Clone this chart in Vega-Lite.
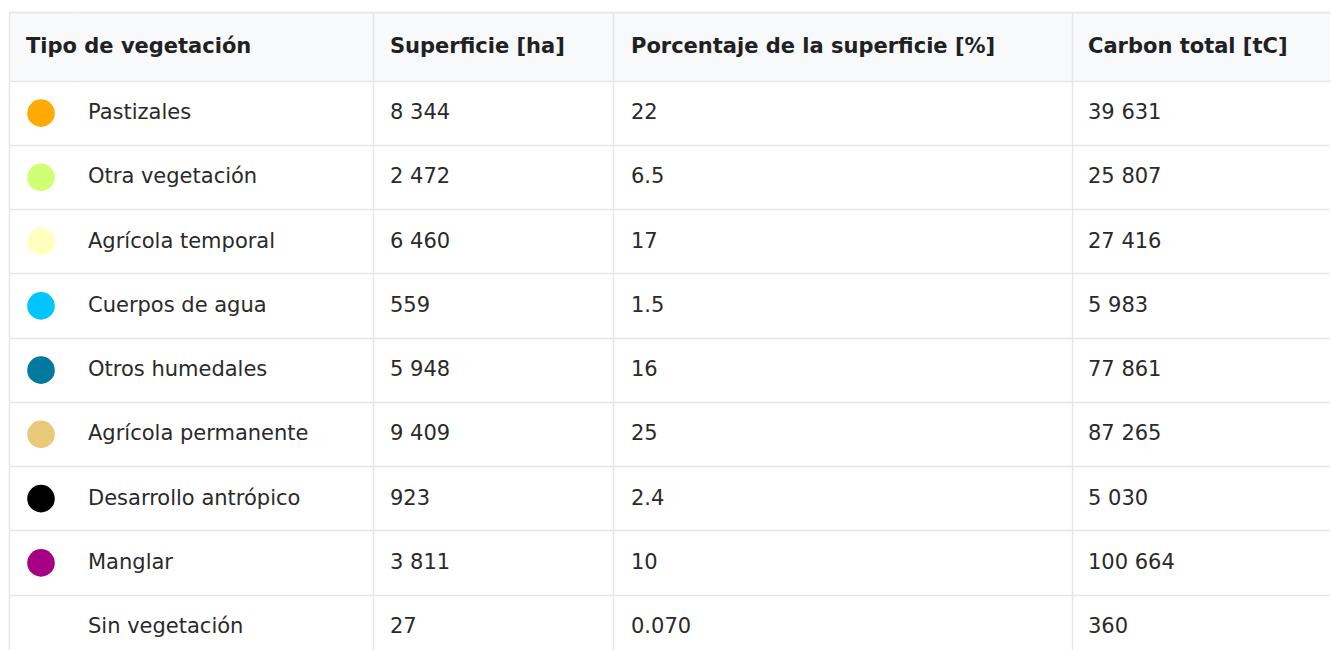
{
  "$schema": "https://vega.github.io/schema/vega-lite/v6.json",
  "padding": {"left": 9, "top": 12, "right": 0, "bottom": 0},
  "bounds": "flush",
  "columns": 5,
  "spacing": 0,
  "resolve": {"scale": {"x": "independent", "y": "independent", "color": "independent"}},
  "config": {
    "locale": {"number": {"decimal": ".", "thousands": " ", "grouping": [3], "currency": ["", ""]}},
    "view": {"stroke": null},
    "concat": {"spacing": 0},
    "axis": {"gridColor": "#e6e6e6", "domainColor": "#e6e6e6", "gridWidth": 1.5, "domainWidth": 1.5, "ticks": false, "labels": false, "title": null},
    "text": {"font": "DejaVu Sans", "fontSize": 21, "color": "#2a2a2a", "align": "left", "baseline": "middle"}
  },
  "datasets": {
    "filas": [
      {"tipo": "Pastizales", "superficie": 8344, "porcentaje": 22, "carbono": 39631},
      {"tipo": "Otra vegetación", "superficie": 2472, "porcentaje": 6.5, "carbono": 25807},
      {"tipo": "Agrícola temporal", "superficie": 6460, "porcentaje": 17, "carbono": 27416},
      {"tipo": "Cuerpos de agua", "superficie": 559, "porcentaje": 1.5, "carbono": 5983},
      {"tipo": "Otros humedales", "superficie": 5948, "porcentaje": 16, "carbono": 77861},
      {"tipo": "Agrícola permanente", "superficie": 9409, "porcentaje": 25, "carbono": 87265},
      {"tipo": "Desarrollo antrópico", "superficie": 923, "porcentaje": 2.4, "carbono": 5030},
      {"tipo": "Manglar", "superficie": 3811, "porcentaje": 10, "carbono": 100664},
      {"tipo": "Sin vegetación", "superficie": 27, "porcentaje": 0.07, "carbono": 360}
    ],
    "encabezados": [
      {"col": "Tipo de vegetación"},
      {"col": "Superficie [ha]"},
      {"col": "Porcentaje de la superficie [%]"},
      {"col": "Carbon total [tC]"}
    ]
  },
  "concat": [
    {"width": 64, "height": 69, "view": {"fill": "#f8f9fa", "stroke": null},
     "data": {"name": "encabezados"}, "transform": [{"filter": "false"}],
     "mark": {"type": "text"},
     "encoding": {"text": {"field": "col"},
       "y": {"datum": "h", "type": "nominal", "scale": {"type": "band", "paddingInner": 0, "paddingOuter": 0}, "axis": {"grid": true, "bandPosition": 0, "domain": true}}}},
    {"width": 300, "height": 69, "view": {"fill": "#f8f9fa", "stroke": null},
     "data": {"name": "encabezados"}, "transform": [{"filter": "datum.col === 'Tipo de vegetación'"}],
     "mark": {"type": "text", "fontWeight": "bold", "color": "#212121", "dx": -47},
     "encoding": {"text": {"field": "col"},
       "x": {"datum": 0, "type": "quantitative", "scale": {"domain": [0, 1]}, "axis": null},
       "y": {"datum": "h", "type": "nominal", "scale": {"type": "band", "paddingInner": 0, "paddingOuter": 0}, "axis": {"grid": true, "bandPosition": 0, "domain": false}}}},
    {"width": 240, "height": 69, "view": {"fill": "#f8f9fa", "stroke": null},
     "data": {"name": "encabezados"}, "transform": [{"filter": "datum.col === 'Superficie [ha]'"}],
     "mark": {"type": "text", "fontWeight": "bold", "color": "#212121", "dx": 17},
     "encoding": {"text": {"field": "col"},
       "x": {"datum": 0, "type": "quantitative", "scale": {"domain": [0, 1]}, "axis": null},
       "y": {"datum": "h", "type": "nominal", "scale": {"type": "band", "paddingInner": 0, "paddingOuter": 0}, "axis": {"grid": true, "bandPosition": 0, "domain": true}}}},
    {"width": 459, "height": 69, "view": {"fill": "#f8f9fa", "stroke": null},
     "data": {"name": "encabezados"}, "transform": [{"filter": "datum.col === 'Porcentaje de la superficie [%]'"}],
     "mark": {"type": "text", "fontWeight": "bold", "color": "#212121", "dx": 18},
     "encoding": {"text": {"field": "col"},
       "x": {"datum": 0, "type": "quantitative", "scale": {"domain": [0, 1]}, "axis": null},
       "y": {"datum": "h", "type": "nominal", "scale": {"type": "band", "paddingInner": 0, "paddingOuter": 0}, "axis": {"grid": true, "bandPosition": 0, "domain": true}}}},
    {"width": 258, "height": 69, "view": {"fill": "#f8f9fa", "stroke": null},
     "data": {"name": "encabezados"}, "transform": [{"filter": "datum.col === 'Carbon total [tC]'"}],
     "mark": {"type": "text", "fontWeight": "bold", "color": "#212121", "dx": 16},
     "encoding": {"text": {"field": "col"},
       "x": {"datum": 0, "type": "quantitative", "scale": {"domain": [0, 1]}, "axis": null},
       "y": {"datum": "h", "type": "nominal", "scale": {"type": "band", "paddingInner": 0, "paddingOuter": 0}, "axis": {"grid": true, "bandPosition": 0, "domain": true}}}},
    {"width": 64, "height": 569, "data": {"name": "filas"},
     "mark": {"type": "circle", "opacity": 1, "size": 760},
     "encoding": {
       "y": {"field": "tipo", "type": "nominal", "sort": null, "scale": {"type": "band", "paddingInner": 0, "paddingOuter": 0, "range": [0, 578.25]}, "axis": {"grid": true, "bandPosition": 0, "domain": true}},
       "color": {"field": "tipo", "type": "nominal", "legend": null,
         "scale": {"domain": ["Pastizales", "Otra vegetación", "Agrícola temporal", "Cuerpos de agua", "Otros humedales", "Agrícola permanente", "Desarrollo antrópico", "Manglar", "Sin vegetación"],
           "range": ["#FFAA00", "#D1FF73", "#FFFFBE", "#00C5FF", "#00799F", "#E8C97A", "#000000", "#A80084", "rgba(0,0,0,0)"]}}}},
    {"width": 300, "height": 569, "data": {"name": "filas"},
     "mark": {"type": "text", "dx": 15},
     "encoding": {"text": {"field": "tipo"},
       "x": {"datum": 0, "type": "quantitative", "scale": {"domain": [0, 1]}, "axis": null},
       "y": {"field": "tipo", "type": "nominal", "sort": null, "scale": {"type": "band", "paddingInner": 0, "paddingOuter": 0, "range": [0, 578.25]}, "axis": {"grid": true, "bandPosition": 0, "domain": false}}}},
    {"width": 240, "height": 569, "data": {"name": "filas"},
     "mark": {"type": "text", "dx": 17},
     "encoding": {"text": {"field": "superficie", "type": "quantitative", "format": ","},
       "x": {"datum": 0, "type": "quantitative", "scale": {"domain": [0, 1]}, "axis": null},
       "y": {"field": "tipo", "type": "nominal", "sort": null, "scale": {"type": "band", "paddingInner": 0, "paddingOuter": 0, "range": [0, 578.25]}, "axis": {"grid": true, "bandPosition": 0, "domain": true}}}},
    {"width": 459, "height": 569, "data": {"name": "filas"},
     "mark": {"type": "text", "dx": 18},
     "encoding": {"text": {"field": "porcentaje", "type": "quantitative", "format": ".2r"},
       "x": {"datum": 0, "type": "quantitative", "scale": {"domain": [0, 1]}, "axis": null},
       "y": {"field": "tipo", "type": "nominal", "sort": null, "scale": {"type": "band", "paddingInner": 0, "paddingOuter": 0, "range": [0, 578.25]}, "axis": {"grid": true, "bandPosition": 0, "domain": true}}}},
    {"width": 258, "height": 569, "data": {"name": "filas"},
     "mark": {"type": "text", "dx": 16},
     "encoding": {"text": {"field": "carbono", "type": "quantitative", "format": ","},
       "x": {"datum": 0, "type": "quantitative", "scale": {"domain": [0, 1]}, "axis": null},
       "y": {"field": "tipo", "type": "nominal", "sort": null, "scale": {"type": "band", "paddingInner": 0, "paddingOuter": 0, "range": [0, 578.25]}, "axis": {"grid": true, "bandPosition": 0, "domain": true}}}}
  ]
}
